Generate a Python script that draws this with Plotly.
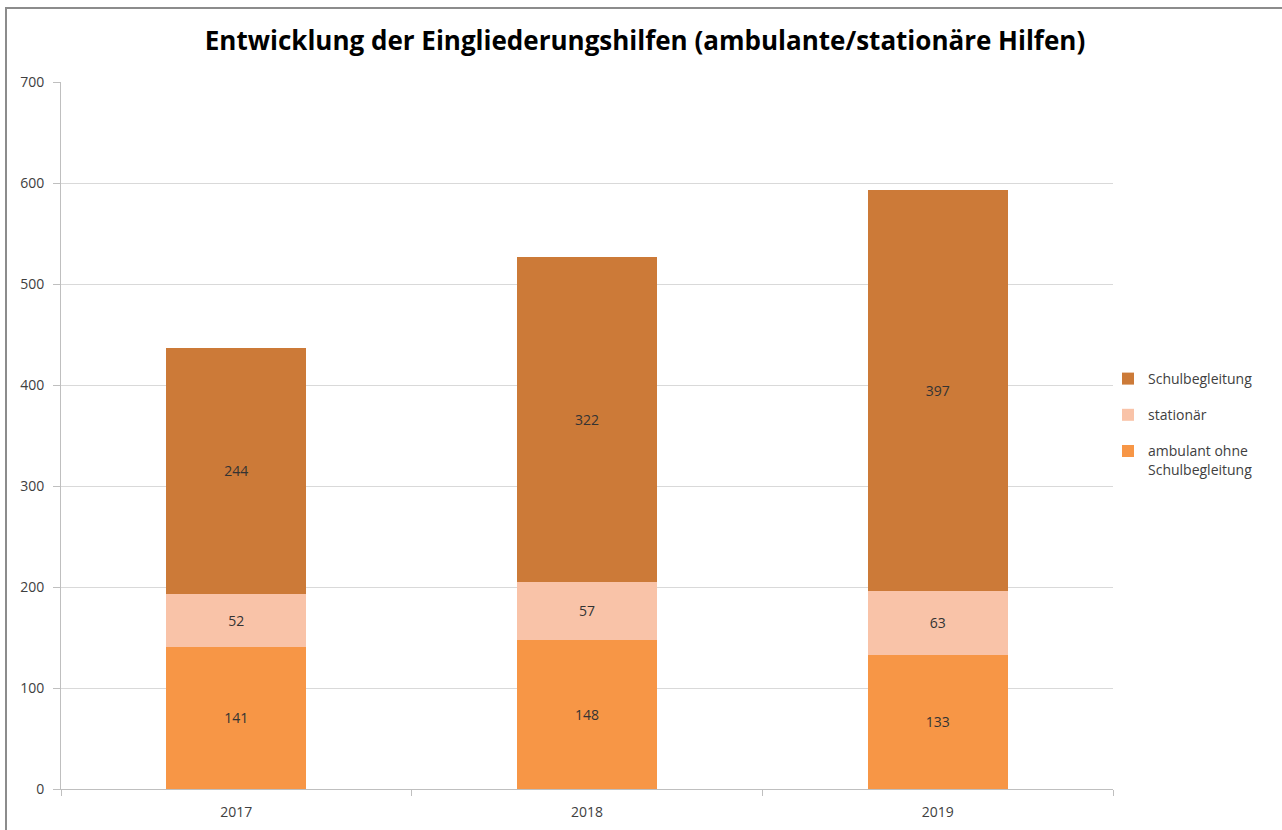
import plotly.graph_objects as go

years = ["2017", "2018", "2019"]
ambulant = [141, 148, 133]
stationaer = [52, 57, 63]
schulbegleitung = [244, 322, 397]

series_names = ["ambulant ohne<br>Schulbegleitung", "stationär", "Schulbegleitung"]
series_values = [ambulant, stationaer, schulbegleitung]
series_colors = ["#F79646", "#F9C3A8", "#CC7A38"]

FONT = "Open Sans, Lato, sans-serif"
TXT = "#404040"

fig = go.Figure()
for i, (name, vals, col) in enumerate(zip(series_names, series_values, series_colors)):
    fig.add_trace(go.Bar(
        x=years, y=vals, name=name, legendgroup=f"g{i}", legendrank=1000 - i,
        marker=dict(color=col, line=dict(width=0)),
        text=[str(v) for v in vals],
        textposition="inside", insidetextanchor="middle", textangle=0,
        textfont=dict(family=FONT, size=14, color="#333333"),
        constraintext="none",
        hoverinfo="skip",
    ))

W, H = 1282, 830
L, R, T, B = 61, 1113, 82, 789
pw, ph = R - L, B - T

fig.update_layout(
    width=W, height=H,
    barmode="stack", bargap=0.6,
    margin=dict(l=L, r=W - R, t=T, b=H - B, autoexpand=False),
    plot_bgcolor="white", paper_bgcolor="white",
    title=dict(
        text="<b>Entwicklung der Eingliederungshilfen (ambulante/stationäre Hilfen)</b>",
        x=645 / W, xanchor="center", y=1 - 41 / H, yanchor="middle",
        font=dict(family=FONT, size=26, color="#000000"),
    ),
    legend=dict(
        x=(1108 - L) / pw, xanchor="left", y=(B - 363) / ph, yanchor="top",
        traceorder="grouped", tracegroupgap=15, valign="top",
        font=dict(family=FONT, size=14, color=TXT),
        bgcolor="rgba(0,0,0,0)", itemwidth=30,
    ),
    showlegend=True,
    font=dict(family=FONT, size=14, color=TXT),
    xaxis=dict(
        showline=True, linecolor="#BFBFBF", linewidth=1,
        ticks="outside", tickson="boundaries", ticklen=6, tickcolor="#BFBFBF",
        ticklabelstandoff=10,
        tickfont=dict(family=FONT, size=14, color=TXT), showgrid=False,
    ),
    yaxis=dict(
        range=[0, 700], dtick=100, showline=True, linecolor="#BFBFBF", linewidth=1,
        ticks="outside", ticklen=7, tickcolor="#BFBFBF", ticklabelstandoff=6,
        showgrid=True, gridcolor="#D9D9D9", gridwidth=1, zeroline=False,
        tickfont=dict(family=FONT, size=14, color=TXT),
    ),
    shapes=[dict(
        type="rect", xref="paper", yref="paper",
        x0=(6 - L) / pw, x1=(W + 20 - L) / pw,
        y0=(B - (H + 20)) / ph, y1=(B - 8) / ph,
        line=dict(color="#8C8C8C", width=2), fillcolor="rgba(0,0,0,0)", layer="below",
    )],
)

fig.write_html("out.html", config={"displayModeBar": False},
               post_script="document.body.style.margin='0';")
